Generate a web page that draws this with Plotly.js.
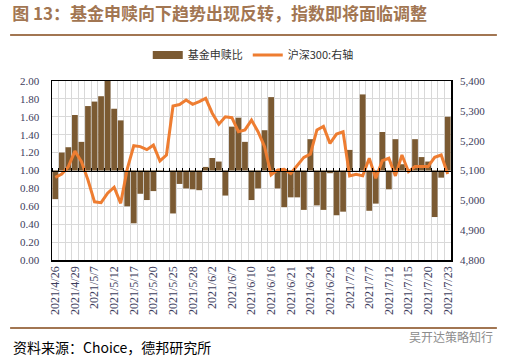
<!DOCTYPE html>
<html>
<head>
<meta charset="utf-8">
<script src="https://cdn.plot.ly/plotly-3.0.1.min.js"></script>
<style>html,body{margin:0;padding:0;background:#fff}#chart{width:508px;height:361px}</style>
</head>
<body>
<div id="chart"></div>
<script>
// Trading days (categories)
const dates = [
 "2021/4/26","2021/4/27","2021/4/28","2021/4/29","2021/4/30",
 "2021/5/6","2021/5/7","2021/5/10","2021/5/11","2021/5/12","2021/5/13","2021/5/14",
 "2021/5/17","2021/5/18","2021/5/19","2021/5/20","2021/5/21",
 "2021/5/24","2021/5/25","2021/5/26","2021/5/27","2021/5/28","2021/5/31",
 "2021/6/1","2021/6/2","2021/6/3","2021/6/4",
 "2021/6/7","2021/6/8","2021/6/9","2021/6/10","2021/6/11",
 "2021/6/15","2021/6/16","2021/6/17","2021/6/18",
 "2021/6/21","2021/6/22","2021/6/23","2021/6/24","2021/6/25",
 "2021/6/28","2021/6/29","2021/6/30",
 "2021/7/1","2021/7/2",
 "2021/7/5","2021/7/6","2021/7/7","2021/7/8","2021/7/9",
 "2021/7/12","2021/7/13","2021/7/14","2021/7/15","2021/7/16",
 "2021/7/19","2021/7/20","2021/7/21","2021/7/22","2021/7/23"
];
// Tick labels shown on the axis
const tickDates = [
 "2021/4/26","2021/4/29","2021/5/7","2021/5/12","2021/5/17","2021/5/20","2021/5/25",
 "2021/5/28","2021/6/2","2021/6/7","2021/6/10","2021/6/16","2021/6/21","2021/6/24",
 "2021/6/29","2021/7/2","2021/7/7","2021/7/12","2021/7/15","2021/7/20","2021/7/23"
];
// 基金申赎比 (left axis, bars based at 1.00)
const fundRatio = [
 0.68,1.20,1.26,1.62,1.32,
 1.72,1.77,1.83,2.00,1.69,1.56,0.60,
 0.41,0.74,0.67,0.77,0.99,
 1.00,0.52,0.85,0.80,0.79,0.78,
 1.04,1.14,1.10,0.72,
 1.49,1.59,1.32,0.67,0.80,
 1.45,1.82,0.80,0.59,
 0.70,0.70,0.56,1.35,0.61,
 0.56,0.97,0.50,
 0.54,1.23,
 1.00,1.85,0.55,0.63,1.43,
 0.79,1.35,1.07,1.00,1.35,
 1.15,1.10,0.48,0.92,1.60
];
// 沪深300 (right axis)
const hs300 = [
 5077,5088,5113,5165,5130,
 5068,4995,4992,5024,5044,4990,5105,
 5183,5180,5170,5185,5132,
 5152,5316,5321,5336,5322,5331,
 5342,5292,5255,5280,5277,5230,5236,
 5269,5230,5180,5085,5102,5104,
 5090,5118,5144,5155,5236,
 5248,5191,5222,5230,5082,
 5087,5082,5141,5074,5133,
 5141,5082,5152,5096,5113,
 5113,5113,5144,5152,5088
];

const brown = '#7b5a32';
const orange = '#ee7d31';
const tickFont = {family: 'Liberation Serif, Times New Roman, serif', size: 11, color: '#3d3d5c'};
const xTickFont = {family: 'Liberation Serif, Times New Roman, serif', size: 12, color: '#3d3d5c'};
const cjk = 'Noto Sans CJK SC, sans-serif';

const traces = [
 {type: 'bar', x: dates, y: fundRatio.map(v => v - 1), base: 1, name: '基金申赎比',
  marker: {color: brown}, showlegend: false, xaxis: 'x', yaxis: 'y', hoverinfo: 'skip'},
 {type: 'scatter', mode: 'lines', x: [dates[0]], y: [null], name: '基金申赎比',
  line: {color: brown, width: 8}, xaxis: 'x', yaxis: 'y'},
 {type: 'scatter', mode: 'lines', x: dates, y: hs300, name: '沪深300:右轴',
  line: {color: orange, width: 3}, xaxis: 'x2', yaxis: 'y2'}
];

const layout = {
 width: 508, height: 361,
 margin: {l: 52, r: 57, t: 81, b: 101},
 paper_bgcolor: '#ffffff', plot_bgcolor: '#ffffff',
 bargap: 0.12,
 showlegend: true,
 title: {text: '图 13：基金申赎向下趋势出现反转，指数即将面临调整',
  font: {family: cjk, size: 17, color: '#a27652', weight: 'bold'},
  xref: 'container', yref: 'container', x: 0.024, xanchor: 'left', y: 0.962, yanchor: 'middle'},
 legend: {orientation: 'h', x: 0.24, xanchor: 'left', y: 1.145, yanchor: 'middle',
  font: {family: cjk, size: 11, color: '#333333'}, bgcolor: 'rgba(0,0,0,0)', itemwidth: 30},
 xaxis: {type: 'category', categoryarray: dates, categoryorder: 'array', range: [-0.5, dates.length - 0.5],
  tickvals: tickDates, tickangle: -90, ticks: '', showgrid: false, tickfont: xTickFont,
  showline: true, mirror: true, linecolor: '#000', linewidth: 1.5, zeroline: false},
 xaxis2: {type: 'category', categoryarray: dates, categoryorder: 'array', range: [-0.5, dates.length - 0.5],
  overlaying: 'x', anchor: 'free', position: 0.5, side: 'top',
  tickvals: dates, tickson: 'boundaries', ticks: 'outside', ticklen: 3, tickcolor: '#000', tickwidth: 1,
  showticklabels: false, showgrid: true, gridcolor: '#d9d9d9', gridwidth: 1,
  showline: true, linecolor: '#000', linewidth: 1.5, zeroline: false},
 yaxis: {range: [0, 2], dtick: 0.2, tick0: 0, tickformat: '.2f', ticks: '', tickfont: tickFont,
  showgrid: true, gridcolor: '#d9d9d9', gridwidth: 1, zeroline: false,
  showline: true, mirror: true, linecolor: '#000', linewidth: 1.5, ticklabelstandoff: 9},
 yaxis2: {range: [4800, 5400], dtick: 100, tick0: 4800, tickformat: ',d', ticks: '', tickfont: tickFont,
  overlaying: 'y', side: 'right', anchor: 'x2', showgrid: false, zeroline: false, showline: false,
  ticklabelstandoff: 8},
 shapes: [
  {type: 'line', xref: 'paper', yref: 'paper', x0: -0.105, x1: 1.115, y0: 1.257, y1: 1.257,
   line: {color: '#a27652', width: 2}},
  {type: 'line', xref: 'paper', yref: 'paper', x0: -0.105, x1: 1.115, y0: -0.38, y1: -0.38,
   line: {color: '#a27652', width: 2}}
 ],
 annotations: [
  {text: '资料来源：Choice，德邦研究所', xref: 'paper', yref: 'paper', x: -0.102, y: -0.486,
   xanchor: 'left', yanchor: 'middle', showarrow: false,
   font: {family: cjk, size: 14, color: '#000000'}},
  {text: '吴开达策略知行', xref: 'paper', yref: 'paper', x: 1.11, y: -0.43,
   xanchor: 'right', yanchor: 'middle', showarrow: false,
   font: {family: cjk, size: 12, color: '#8c8c8c'}}
 ]
};

Plotly.newPlot('chart', traces, layout, {displayModeBar: false, staticPlot: true});
</script>
</body>
</html>
